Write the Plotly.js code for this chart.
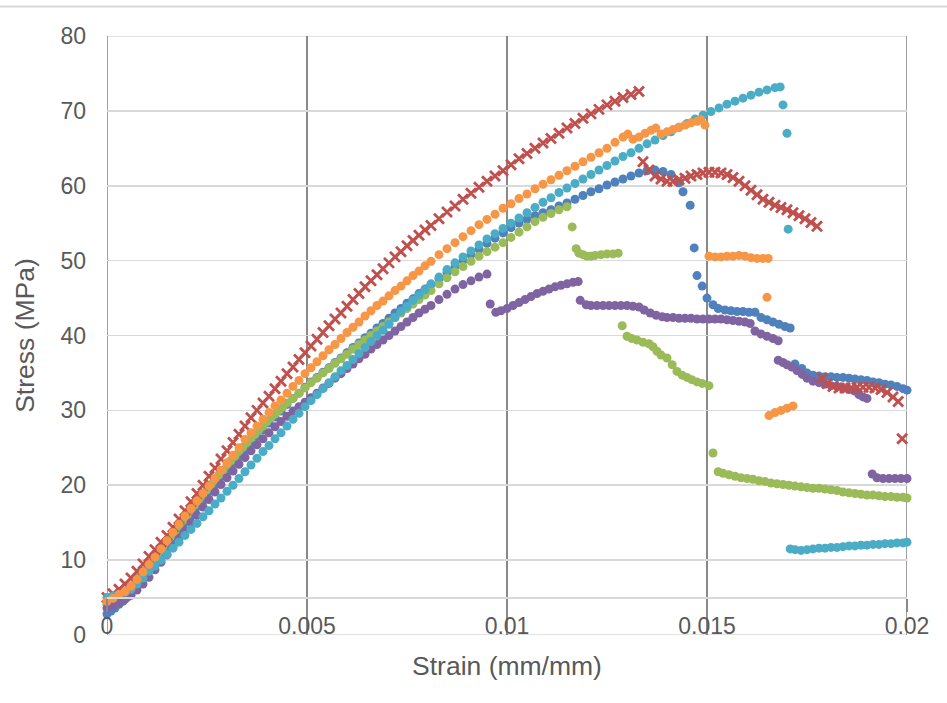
<!DOCTYPE html>
<html>
<head>
<meta charset="utf-8">
<script src="https://cdn.plot.ly/plotly-3.0.1.min.js"></script>
<style>html,body{margin:0;padding:0;background:#fff;}#chart{width:947px;height:703px;}</style>
</head>
<body>
<div id="chart"></div>
<script>
// ---------- DATA ----------
const strainGrid = [0,0.00015,0.0003,0.00045,0.0006,0.00075,0.0009,0.00105,0.0012,0.00135,
 0.0015,0.00165,0.0018,0.00195,0.0021,0.00225,0.0024,0.00255,0.0027,0.00285,
 0.003,0.00315,0.0033,0.00345,0.0036,0.00375,0.0039,0.00405,0.0042,0.00435,
 0.0045,0.00465,0.0048,0.00495,0.0051,0.00525,0.0054,0.00555,0.0057,0.00585,
 0.006,0.00615,0.0063,0.00645,0.0066,0.00675,0.0069,0.00705,0.0072,0.00735,
 0.0075,0.00765,0.0078,0.00795,0.0081,
 0.0083,0.0085,0.0087,0.0089,0.0091,0.0093,0.0095,0.0097,0.0099,0.0101,
 0.0103,0.0105,0.0107,0.0109,0.0111,0.0113,0.0115,0.0117,0.0119,0.0121,
 0.0123,0.0125,0.0127,0.0129,0.0131,0.0133,0.0135,0.0137,0.0139,0.0141,
 0.0143,0.0145,0.0147,0.0149,0.0151,0.0153,0.0155,0.0157,0.0159,0.0161,
 0.0163,0.0165,0.0167];

// Red (x markers)
const redRiseStress = [5.0,5.5,6.1,6.8,7.6,8.5,9.5,10.5,11.4,12.4,
 13.3,14.4,15.5,16.6,17.8,18.9,20.0,21.2,22.3,23.5,
 24.6,25.7,26.8,27.9,29.0,30.0,31.0,31.9,32.9,33.9,
 34.9,35.8,36.8,37.7,38.6,39.5,40.4,41.3,42.2,43.0,
 43.9,44.8,45.6,46.5,47.3,48.1,48.9,49.7,50.5,51.2,
 52.0,52.7,53.4,54.1,54.7,
 55.6,56.5,57.3,58.2,59.0,59.8,60.6,61.3,62.0,62.8,
 63.6,64.3,65.0,65.7,66.3,67.0,67.7,68.3,69.0,69.6,
 70.2,70.8,71.3,71.8,72.2,72.6];
const redDropStrain = [0.0134,0.01355,0.0137,0.01385,0.014,0.01415,0.0143,0.01445,0.0146,0.01475,0.0149,0.01505,0.0152,0.01535,0.0155,0.01565,0.0158,0.01595,0.0161,0.01625,0.0164,0.01655,0.0167,0.01685,0.017,0.01715,0.0173,0.01745,0.0176,0.01775];
const redDropStress = [63.2,62.1,61.3,60.9,60.6,60.6,60.8,61.0,61.3,61.5,61.7,61.8,61.8,61.7,61.5,61.1,60.6,60.0,59.4,58.8,58.2,57.8,57.4,57.1,56.8,56.4,56.0,55.6,55.1,54.6];
const redTailStrain = [0.01788,0.018,0.01815,0.0183,0.01845,0.0186,0.01875,0.0189,0.01905,0.0192,0.01935,0.0195,0.01965,0.01978,0.01988];
const redTailStress = [34.3,33.6,33.2,33.0,33.0,33.0,33.1,33.1,33.1,33.0,32.8,32.4,31.8,31.2,26.2];

// Orange
const orangeRiseStress = [4.5,4.9,5.4,5.8,6.5,7.4,8.4,9.4,10.4,11.5,
 12.6,13.7,14.8,15.9,16.9,17.9,18.9,19.9,20.9,22.0,
 23.0,24.0,25.0,26.1,27.0,27.9,28.8,29.7,30.6,31.4,
 32.3,33.2,34.0,34.9,35.7,36.5,37.3,38.1,38.8,39.6,
 40.4,41.1,41.8,42.6,43.3,44.0,44.6,45.3,46.0,46.6,
 47.3,48.0,48.6,49.3,49.9,
 50.8,51.6,52.4,53.2,54.0,54.8,55.5,56.2,57.0,57.6,
 58.3,58.9,59.6,60.2,60.8,61.4,62.0,62.6,63.2,63.8,
 64.4,65.0,65.8,66.5];
const orangePeakStrain = [0.01302,0.01315,0.0133,0.01345,0.0136,0.01372,0.01385,0.014,0.01415,0.0143,0.01445,0.0146,0.01475,0.01485,0.01495];
const orangePeakStress = [66.9,66.2,66.5,67.0,67.4,67.7,66.9,67.2,67.5,67.8,68.1,68.4,68.6,68.8,68.1];
const orangePlateauStrain = [0.01505,0.0152,0.01535,0.0155,0.01565,0.0158,0.01595,0.0161,0.01625,0.0164,0.01653,0.0165];
const orangePlateauStress = [50.6,50.5,50.5,50.6,50.6,50.7,50.6,50.4,50.3,50.3,50.3,45.1];
const orangeLowStrain = [0.01655,0.0167,0.01685,0.017,0.01715];
const orangeLowStress = [29.3,29.7,30.0,30.3,30.6];

// Blue
const blueEarlyStrain = [0,0.0001,0.0002,0.0003,0.0004,0.0005,0.0006,0.0007,0.0008,0.0009,
 0.001,0.0011,0.0012,0.0013,0.0014,0.0015,0.0016,0.0017,0.0018,0.0019,
 0.002,0.0021,0.0022,0.0023,0.0024,0.0025,0.0026,0.0027,0.0028,0.0029,0.003];
const blueEarlyStress = [2.8,3.2,3.6,4.1,4.5,5.0,5.6,6.2,6.9,7.5,
 8.2,8.9,9.6,10.3,11.0,11.7,12.4,13.1,13.8,14.5,
 15.2,15.9,16.6,17.3,17.9,18.6,19.3,20.0,20.7,21.3,22.0];
const blueRiseStress = [22.9,23.8,24.7,25.6,26.5,27.4,28.3,29.1,29.9,30.8,
 31.6,32.3,33.1,33.8,34.4,35.1,35.7,36.4,37.0,37.7,
 38.4,39.0,39.7,40.3,41.0,41.6,42.3,43.0,43.6,44.3,
 44.9,45.6,46.2,46.8,
 47.6,48.4,49.2,50.0,50.8,51.5,52.3,53.0,53.7,54.4,
 55.0,55.5,56.0,56.4,56.8,57.3,57.7,58.2,58.7,59.2,
 59.6,60.1,60.5,60.9,61.3,61.7,62.0,62.1,61.9,61.5,60.4];
const blueDropStrain = [0.0144,0.01458,0.01468,0.01475,0.01488,0.015,0.01515,0.01528,0.01545,0.0156,0.01575,0.0159,0.01605,0.0162,0.01635,0.0165,0.01665,0.0168,0.01695,0.01708];
const blueDropStress = [59.2,57.4,51.7,48.0,46.6,45.0,44.1,43.6,43.4,43.3,43.2,43.2,43.1,43.1,42.4,42.1,41.8,41.5,41.2,41.0];
const blueTailStrain = [0.0172,0.01737,0.0175,0.01765,0.0178,0.01795,0.0181,0.01825,0.0184,0.01855,0.0187,0.01885,0.019,0.01915,0.0193,0.01945,0.0196,0.01975,0.0199,0.02];
const blueTailStress = [36.2,35.6,35.0,34.7,34.6,34.5,34.5,34.4,34.4,34.3,34.2,34.1,34.0,33.8,33.7,33.5,33.4,33.2,32.9,32.7];

// Green
const greenEarlyStrain = [0,0.0001,0.0002,0.0003,0.0004,0.0005,0.0006,0.0007,0.0008,0.0009,
 0.001,0.0011,0.0012,0.0013,0.0014,0.0015,0.0016,0.0017,0.0018,0.0019,
 0.002,0.0021,0.0022,0.0023,0.0024,0.0025,0.0026,0.0027,0.0028,0.0029,
 0.003,0.0031,0.0032,0.0033,0.0034,0.0035,0.0036,0.0037,0.0038,0.0039,
 0.004,0.0041,0.0042,0.0043,0.0044,0.0045];
const greenEarlyStress = [4.1,4.4,4.8,5.2,5.5,5.9,6.5,7.1,7.7,8.3,
 9.0,9.7,10.4,11.1,11.8,12.5,13.2,13.9,14.6,15.3,
 16.0,16.7,17.4,18.1,18.7,19.4,20.1,20.7,21.4,22.0,
 22.7,23.3,23.9,24.5,25.1,25.7,26.3,26.8,27.4,27.9,
 28.5,29.0,29.5,30.0,30.5,31.0];
const greenRiseStress = [31.6,32.3,33.0,33.7,34.3,35.0,35.6,36.3,36.9,37.5,
 38.2,38.8,39.4,40.0,40.6,41.2,41.8,42.4,43.0,43.6,
 44.2,44.8,45.4,46.0,
 46.9,47.7,48.5,49.2,49.9,50.6,51.2,51.8,52.4,53.1,
 53.8,54.5,55.2,55.8,56.3,56.8,57.2];
const greenSeg2Strain = [0.01163,0.01173,0.0118,0.0119,0.012,0.0121,0.0122,0.01235,0.0125,0.01265,0.01278];
const greenSeg2Stress = [54.5,51.6,51.0,50.8,50.6,50.6,50.7,50.8,50.9,50.9,51.0];
const greenSeg3Strain = [0.01288,0.013,0.01312,0.01325,0.0134,0.01355,0.01365,0.01375,0.01385,0.014,0.01413,0.01425,0.01438,0.0145,0.01462,0.01475,0.01488,0.01505];
const greenSeg3Stress = [41.3,39.9,39.6,39.4,39.1,38.9,38.5,37.9,37.4,37.0,36.1,35.2,34.7,34.4,34.1,33.8,33.6,33.3];
const greenTailStrain = [0.01515,0.01528,0.0154,0.01555,0.0157,0.01585,0.016,0.01615,0.0163,0.01645,0.0166,0.01675,0.0169,0.01705,0.0172,0.01735,0.0175,0.01765,0.0178,0.01795,0.0181,0.01825,0.0184,0.01855,0.0187,0.01885,0.019,0.01915,0.0193,0.01945,0.0196,0.01975,0.0199,0.02];
const greenTailStress = [24.3,21.8,21.6,21.4,21.2,21.0,20.9,20.8,20.6,20.5,20.3,20.2,20.1,20.0,19.9,19.8,19.7,19.6,19.6,19.5,19.4,19.3,19.1,19.0,18.9,18.8,18.7,18.7,18.6,18.5,18.5,18.4,18.4,18.3];

// Purple
const purpleRiseStress = [3.6,3.9,4.3,4.8,5.3,6.0,6.8,7.7,8.7,9.7,
 10.7,11.8,12.9,13.9,15.0,16.0,17.1,18.1,19.1,20.1,
 21.0,21.9,22.8,23.7,24.6,25.4,26.2,27.0,27.8,28.5,
 29.2,29.9,30.5,31.1,31.7,32.3,33.0,33.6,34.3,34.9,
 35.6,36.2,36.9,37.5,38.2,38.8,39.4,40.0,40.6,41.2,
 41.8,42.4,43.0,43.5,44.0,
 44.8,45.5,46.2,46.8,47.3,47.8,48.2];
const purpleSeg2Strain = [0.00958,0.00972,0.00985,0.01,0.01015,0.0103,0.01045,0.0106,0.01075,0.0109,0.01105,0.0112,0.01135,0.0115,0.01165,0.01178];
const purpleSeg2Stress = [44.2,43.1,43.3,43.6,44.0,44.4,44.8,45.2,45.6,45.9,46.2,46.5,46.7,46.9,47.1,47.2];
const purpleSeg3Strain = [0.01183,0.01198,0.0121,0.01225,0.0124,0.01255,0.0127,0.01285,0.013,0.01315,0.0133,0.01343,0.01358,0.01373,0.01388,0.014,0.01415,0.0143,0.01445,0.0146,0.01475,0.0149,0.01505,0.0152,0.01535,0.0155,0.01565,0.0158,0.01595,0.01608];
const purpleSeg3Stress = [44.7,44.1,44.0,44.0,44.0,44.0,44.0,44.0,44.0,43.9,43.8,43.4,43.0,42.7,42.5,42.4,42.4,42.3,42.3,42.3,42.2,42.2,42.2,42.2,42.2,42.1,42.0,41.9,41.8,41.6];
const purpleSeg4Strain = [0.0162,0.01635,0.0165,0.01665,0.01678];
const purpleSeg4Stress = [40.6,40.2,39.9,39.6,39.3];
const purpleSeg5Strain = [0.01678,0.0169,0.017,0.01712,0.01725,0.01738,0.0175,0.01765,0.0178,0.01795,0.0181,0.01825,0.0184,0.01855,0.01868,0.0188,0.0189,0.019];
const purpleSeg5Stress = [36.7,36.4,36.1,35.8,35.3,34.8,34.3,33.9,33.7,33.5,33.3,33.2,33.0,32.8,32.6,32.1,31.8,31.6];
const purpleSeg6Strain = [0.01913,0.01925,0.0194,0.01955,0.0197,0.01985,0.02];
const purpleSeg6Stress = [21.5,21.0,20.9,20.9,20.9,20.9,20.9];

// Teal
const tealRiseStress = [5.0,5.2,5.4,5.7,6.1,6.8,7.6,8.5,9.2,10.0,
 10.8,11.6,12.4,13.3,14.1,14.9,15.8,16.6,17.5,18.3,
 19.2,20.0,20.9,21.8,22.7,23.6,24.5,25.3,26.2,27.0,
 27.9,28.8,29.6,30.5,31.3,32.1,32.9,33.7,34.5,35.3,
 36.0,36.8,37.6,38.4,39.2,40.0,40.7,41.5,42.4,43.2,
 43.9,44.7,45.4,46.1,46.9,
 47.8,48.8,49.7,50.5,51.3,52.1,52.9,53.6,54.3,55.0,
 55.7,56.4,57.1,57.8,58.4,59.1,59.7,60.3,60.9,61.5,
 62.1,62.7,63.3,63.9,64.4,65.0,65.6,66.1,66.7,67.2,
 67.8,68.3,68.9,69.4,69.9,70.4,70.9,71.3,71.7,72.1,
 72.5,72.8,73.1];
const tealPeakStrain = [0.01683,0.0169,0.017,0.01703];
const tealPeakStress = [73.2,70.8,67.0,54.2];
const tealTailStrain = [0.01708,0.0172,0.01735,0.0175,0.01765,0.0178,0.01795,0.0181,0.01825,0.0184,0.01855,0.0187,0.01885,0.019,0.01915,0.0193,0.01945,0.0196,0.01975,0.0199,0.02];
const tealTailStress = [11.5,11.4,11.3,11.4,11.5,11.6,11.6,11.7,11.7,11.8,11.9,11.9,12.0,12.0,12.1,12.1,12.2,12.2,12.3,12.3,12.4];

const xTickVals = [0, 0.005, 0.01, 0.015, 0.02];
const xTickText = ['0', '0.005', '0.01', '0.015', '0.02'];
const yTickVals = [0, 10, 20, 30, 40, 50, 60, 70, 80];
const xRange = [0, 0.02];
const yRange = [0, 80];
const xAxisCross = 5;

// ---------- BUILD ----------
const cat = (...a) => [].concat(...a);
const FONT = 'Liberation Sans, Arial, sans-serif';
const dot = c => ({symbol: 'circle', size: 9, color: c, line: {width: 0}});

const traces = [
  {name: 'Blue', x: cat(blueEarlyStrain, strainGrid.slice(21, 21 + blueRiseStress.length), blueDropStrain, blueTailStrain),
   y: cat(blueEarlyStress, blueRiseStress, blueDropStress, blueTailStress), marker: dot('#4F81BD')},
  {name: 'Green', x: cat(greenEarlyStrain, strainGrid.slice(31, 31 + greenRiseStress.length), greenSeg2Strain, greenSeg3Strain, greenTailStrain),
   y: cat(greenEarlyStress, greenRiseStress, greenSeg2Stress, greenSeg3Stress, greenTailStress), marker: dot('#9BBB59')},
  {name: 'Purple', x: cat(strainGrid.slice(0, purpleRiseStress.length), purpleSeg2Strain, purpleSeg3Strain, purpleSeg4Strain, purpleSeg5Strain, purpleSeg6Strain),
   y: cat(purpleRiseStress, purpleSeg2Stress, purpleSeg3Stress, purpleSeg4Stress, purpleSeg5Stress, purpleSeg6Stress), marker: dot('#8064A2')},
  {name: 'Red', x: cat(strainGrid.slice(0, redRiseStress.length), redDropStrain, redTailStrain),
   y: cat(redRiseStress, redDropStress, redTailStress),
   marker: {symbol: 'x-thin-open', size: 10, color: '#C0504D', line: {width: 2.8, color: '#C0504D'}}},
  {name: 'Teal', x: cat(strainGrid.slice(0, tealRiseStress.length), tealPeakStrain, tealTailStrain),
   y: cat(tealRiseStress, tealPeakStress, tealTailStress), marker: dot('#4BACC6')},
  {name: 'Orange', x: cat(strainGrid.slice(0, orangeRiseStress.length), orangePeakStrain, orangePlateauStrain, orangeLowStrain),
   y: cat(orangeRiseStress, orangePeakStress, orangePlateauStress, orangeLowStress), marker: dot('#F79646')}
].map(t => Object.assign({type: 'scatter', mode: 'markers', hoverinfo: 'skip', cliponaxis: false}, t));

const edge = (x0, x1, y0, y1, color) => ({type: 'line', xref: 'x', yref: 'y', x0, x1, y0, y1,
  line: {color, width: 1.6}, layer: 'below'});

const layout = {
  width: 947, height: 703,
  margin: {l: 107, r: 40, t: 36, b: 68},
  paper_bgcolor: '#ffffff', plot_bgcolor: '#ffffff',
  showlegend: false,
  font: {family: FONT, color: '#595959'},
  xaxis: {
    range: xRange, tickvals: xTickVals, ticktext: xTickText,
    showgrid: true, gridcolor: '#898989', gridwidth: 1.6,
    zeroline: false, showline: true, linecolor: '#d9d9d9', linewidth: 2,
    anchor: 'free', position: xAxisCross / yRange[1],
    ticks: 'outside', ticklen: 13, tickwidth: 1.6, tickcolor: '#898989',
    ticklabelstandoff: -5,
    tickfont: {size: 23, color: '#595959', family: FONT},
    title: {text: 'Strain (mm/mm)', font: {size: 26.5, color: '#595959', family: FONT}, standoff: 17}
  },
  yaxis: {
    range: yRange, tickvals: yTickVals,
    showgrid: true, gridcolor: '#d9d9d9', gridwidth: 1.6,
    zeroline: false, showline: false, ticks: '',
    ticklabelstandoff: 20,
    tickfont: {size: 23, color: '#595959', family: FONT},
    title: {text: 'Stress (MPa)', font: {size: 26.5, color: '#595959', family: FONT}, standoff: 18}
  },
  shapes: [
    {type: 'line', xref: 'paper', yref: 'paper', x0: -0.2, x1: 1.2, y0: (635 - 6.5) / 599, y1: (635 - 6.5) / 599,
     line: {color: '#d9d9d9', width: 2}, layer: 'below'},
    edge(xRange[0], xRange[1], yRange[0], yRange[0], '#d9d9d9'),
    edge(xRange[0], xRange[1], yRange[1], yRange[1], '#d9d9d9'),
    edge(xRange[0], xRange[0], yRange[0], yRange[1], '#898989'),
    edge(xRange[1], xRange[1], yRange[0], yRange[1], '#898989')
  ]
};

Plotly.newPlot('chart', traces, layout, {displayModeBar: false, staticPlot: true});
</script>
</body>
</html>
